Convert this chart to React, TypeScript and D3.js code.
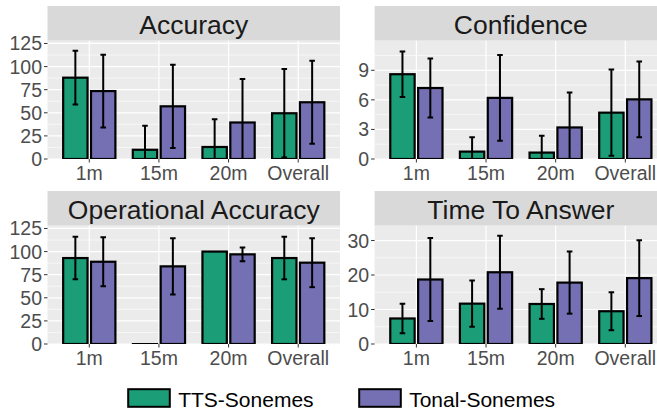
import React from 'react';
import * as d3 from 'd3';

// categories and groups
const categories = ['1m', '15m', '20m', 'Overall'];
const groups = ['TTS-Sonemes', 'Tonal-Sonemes'];
const groupColors = ['#1B9E77', '#7570B3'];

// values (mean and error half-width)
const accuracyTts = [88, 10, 13, 49.5];
const accuracyTtsErr = [29, 26, 30, 48];
const accuracyTonal = [73.5, 57, 39.5, 61.4];
const accuracyTonalErr = [39.4, 45, 47, 44.8];

const confidenceTts = [8.6, 0.75, 0.65, 4.7];
const confidenceTtsErr = [2.3, 1.45, 1.7, 4.38];
const confidenceTonal = [7.2, 6.2, 3.2, 6.05];
const confidenceTonalErr = [3.0, 4.35, 3.55, 3.85];

const operationalTts = [93, 0, 100, 93];
const operationalTtsErr = [23, 0, 0, 23];
const operationalTonal = [89, 84, 97, 88];
const operationalTonalErr = [26.5, 30.5, 7.5, 26.5];

const timeTts = [7.4, 11.7, 11.6, 9.5];
const timeTtsErr = [4.3, 6.7, 4.3, 5.5];
const timeTonal = [18.7, 20.8, 17.8, 19.1];
const timeTonalErr = [12.0, 10.6, 9.0, 11.0];

const accuracyTicks = [0, 25, 50, 75, 100, 125];
const confidenceTicks = [0, 3, 6, 9];
const timeTicks = [0, 10, 20, 30];

const panels = [
  { title: 'Accuracy', means: [accuracyTts, accuracyTonal], errs: [accuracyTtsErr, accuracyTonalErr], ticks: accuracyTicks, max: 128, col: 0, row: 0 },
  { title: 'Confidence', means: [confidenceTts, confidenceTonal], errs: [confidenceTtsErr, confidenceTonalErr], ticks: confidenceTicks, max: 12, col: 1, row: 0 },
  { title: 'Operational Accuracy', means: [operationalTts, operationalTonal], errs: [operationalTtsErr, operationalTonalErr], ticks: accuracyTicks, max: 128, col: 0, row: 1 },
  { title: 'Time To Answer', means: [timeTts, timeTonal], errs: [timeTtsErr, timeTonalErr], ticks: timeTicks, max: 34.3, col: 1, row: 1 },
];

const font = '"Liberation Sans", Arial, Helvetica, sans-serif';
const colX = [47.5, 374.6];
const rowY = [6, 191];
const panelW = 292.5;
const stripH = 34.7;
const panelH = 118.3;

function Panel({ p, idx }: { p: any; idx: number }) {
  const x0 = colX[p.col];
  const top = rowY[p.row];
  const py = top + stripH;
  const x = d3.scalePoint().domain(categories).range([0, panelW]).padding(0.6);
  const step = x.step();
  const y = d3.scaleLinear().domain([0, p.max]).range([panelH, 0]);
  const minor = p.ticks.slice(0, -1).map((t: number, i: number) => (t + p.ticks[i + 1]) / 2);
  const lastMinor = p.ticks[p.ticks.length - 1] + (p.ticks[1] - p.ticks[0]) / 2;
  if (lastMinor < p.max) minor.push(lastMinor);
  const clipId = `clip${idx}`;
  const barW = step * 0.35;
  const cap = step * 0.08;
  return (
    <g>
      <rect x={x0} y={top} width={panelW} height={stripH} fill="#D9D9D9" />
      <text x={x0 + panelW / 2} y={top + 27.5} textAnchor="middle" fontSize={26.5} fill="#1A1A1A" fontFamily={font}>{p.title}</text>
      <g transform={`translate(${x0},${py})`}>
        <clipPath id={clipId}><rect width={panelW} height={panelH} /></clipPath>
        <rect width={panelW} height={panelH} fill="#EBEBEB" />
        {minor.map((t: number) => (
          <line key={'m' + t} x1={0} x2={panelW} y1={y(t)} y2={y(t)} stroke="#fff" strokeWidth={0.6} />
        ))}
        {p.ticks.map((t: number) => (
          <line key={'t' + t} x1={0} x2={panelW} y1={y(t)} y2={y(t)} stroke="#fff" strokeWidth={1.2} />
        ))}
        {categories.map((c) => (
          <line key={'v' + c} x1={x(c)} x2={x(c)} y1={0} y2={panelH} stroke="#fff" strokeWidth={1.2} />
        ))}
        <g clipPath={`url(#${clipId})`}>
          {categories.map((c, i) =>
            groups.map((g, gi) => {
              const cx = (x(c) as number) + (gi === 0 ? -0.2 : 0.2) * step;
              const v = p.means[gi][i];
              if (v === 0) {
                return (
                  <line key={c + g} x1={cx - barW / 2 - 1} x2={cx + barW / 2 + 1} y1={y(0)} y2={y(0)} stroke="#000" strokeWidth={2.2} />
                );
              }
              return (
                <rect key={c + g} x={cx - barW / 2} y={y(v)} width={barW} height={y(0) - y(v)}
                  fill={groupColors[gi]} stroke="#000" strokeWidth={2.2} />
              );
            })
          )}
          {categories.map((c, i) =>
            groups.map((g, gi) => {
              const e = p.errs[gi][i];
              if (!e) return null;
              const cx = (x(c) as number) + (gi === 0 ? -0.2 : 0.2) * step;
              const v = p.means[gi][i];
              const hi = y(v + e);
              const lo = y(v - e);
              return (
                <g key={'e' + c + g} stroke="#000" strokeWidth={2}>
                  <line x1={cx} x2={cx} y1={hi} y2={lo} />
                  <line x1={cx - cap / 2} x2={cx + cap / 2} y1={hi} y2={hi} />
                  <line x1={cx - cap / 2} x2={cx + cap / 2} y1={lo} y2={lo} />
                </g>
              );
            })
          )}
        </g>
        {p.ticks.map((t: number) => (
          <g key={'yl' + t}>
            <line x1={-3.5} x2={0} y1={y(t)} y2={y(t)} stroke="#333" strokeWidth={1} />
            <text x={-5.5} y={y(t)} dy="0.36em" textAnchor="end" fontSize={19.5} fill="#4D4D4D" fontFamily={font}>{t}</text>
          </g>
        ))}
        {categories.map((c) => (
          <g key={'xl' + c}>
            <line x1={x(c)} x2={x(c)} y1={panelH} y2={panelH + 3.5} stroke="#333" strokeWidth={1} />
            <text x={x(c)} y={panelH + 21} textAnchor="middle" fontSize={19.5} fill="#4D4D4D" fontFamily={font}>{c}</text>
          </g>
        ))}
      </g>
    </g>
  );
}

export default function App() {
  const legendX = [128.2, 359.2];
  return (
    <svg width={657} height={413} style={{ position: 'absolute', left: 0, top: 0, background: '#fff' }}>
      <rect width={657} height={413} fill="#fff" />
      {panels.map((p, i) => (
        <Panel key={p.title} p={p} idx={i} />
      ))}
      {groups.map((g, gi) => (
        <g key={g}>
          <rect x={legendX[gi]} y={389.2} width={41.6} height={17.6} fill={groupColors[gi]} stroke="#000" strokeWidth={2} />
          <text x={legendX[gi] + 50} y={406.5} fontSize={21} fill="#000" fontFamily={font}>{g}</text>
        </g>
      ))}
    </svg>
  );
}
